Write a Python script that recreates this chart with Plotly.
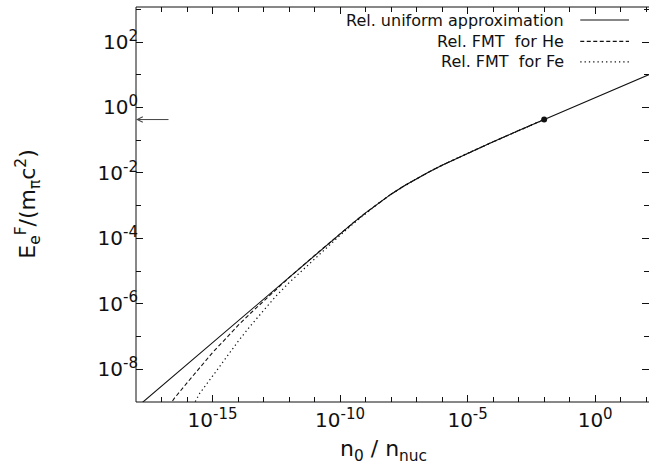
import math
import plotly.graph_objects as go

# Electron Fermi energy (in units of m_pi c^2) versus n0 / n_nuc
n_uniform = [1e-18, 1e-17, 1e-16, 1e-15, 1e-14, 1e-13, 1e-12, 1e-11, 3.16e-11,
             1e-10, 3.16e-10, 1e-9, 3.16e-9, 1e-8, 3.16e-8, 1e-7, 3.16e-7,
             1e-6, 1e-5, 1e-4, 1e-3, 1e-2, 1e-1, 1.0, 10.0, 100.0, 200.0]
E_uniform = [6.60e-10, 3.06e-9, 1.42e-8, 6.60e-8, 3.06e-7, 1.42e-6, 6.59e-6,
             3.05e-5, 6.53e-5, 1.39e-4, 2.92e-4, 6.00e-4, 1.19e-3, 2.24e-3,
             3.98e-3, 6.72e-3, 1.09e-2, 1.72e-2, 4.01e-2, 8.97e-2, 0.197,
             0.427, 0.923, 1.99, 4.30, 9.26, 11.7]

n_he = [1e-17, 3.16e-17, 1e-16, 3.16e-16, 1e-15, 3.16e-15, 1e-14, 3.16e-14,
        1e-13, 1e-12, 1e-11, 3.16e-11, 1e-10, 3.16e-10, 1e-9, 3.16e-9, 1e-8,
        3.16e-8, 1e-7, 3.16e-7, 1e-6, 1e-5, 1e-4, 1e-3, 1e-2]
E_he = [3.47e-10, 1.29e-9, 3.83e-9, 1.14e-8, 3.24e-8, 8.38e-8, 2.19e-7,
        5.25e-7, 1.23e-6, 6.31e-6, 3.01e-5, 6.53e-5, 1.39e-4, 2.92e-4,
        6.00e-4, 1.19e-3, 2.24e-3, 3.98e-3, 6.72e-3, 1.09e-2, 1.72e-2,
        4.01e-2, 8.97e-2, 0.197, 0.427]

n_fe = [1e-16, 3.16e-16, 1e-15, 3.16e-15, 1e-14, 3.16e-14, 1e-13, 3.16e-13,
        1e-12, 1e-11, 3.16e-11, 1e-10, 3.16e-10, 1e-9, 3.16e-9, 1e-8, 3.16e-8,
        1e-7, 3.16e-7, 1e-6, 1e-5, 1e-4, 1e-3, 1e-2]
E_fe = [3.55e-10, 1.85e-9, 6.17e-9, 2.10e-8, 7.08e-8, 2.19e-7, 6.46e-7,
        1.76e-6, 4.41e-6, 2.42e-5, 5.56e-5, 1.24e-4, 2.73e-4, 5.79e-4,
        1.17e-3, 2.24e-3, 3.98e-3, 6.72e-3, 1.09e-2, 1.72e-2, 4.01e-2,
        8.97e-2, 0.197, 0.427]

# marked point and the matching level on the energy axis
n_mark = [1e-2]
E_mark = [0.427]

series_names = ["Rel. uniform approximation", "Rel. FMT  for He", "Rel. FMT  for Fe"]

x_exponents = [-15, -10, -5, 0]
y_exponents = [-8, -6, -4, -2, 0, 2]


def power_label(k):
    return f"10<sup><span style='font-size:15px'>{k}</span></sup>"


x_major = [10.0 ** k for k in x_exponents]
x_major_text = [power_label(k) for k in x_exponents]
x_minor = [10.0 ** k for k in range(-18, 3) if k not in x_exponents]
y_major = [10.0 ** k for k in y_exponents]
y_major_text = [power_label(k) for k in y_exponents]
y_minor = [10.0 ** k for k in range(-9, 4) if k not in y_exponents]

FONT = "DejaVu Sans, Liberation Sans, Arial, sans-serif"
INK = "#111111"

fig = go.Figure()
fig.add_trace(go.Scatter(x=n_uniform, y=E_uniform, mode="lines", name=series_names[0],
                         line=dict(color=INK, width=1.1)))
fig.add_trace(go.Scatter(x=n_he, y=E_he, mode="lines", name=series_names[1],
                         line=dict(color=INK, width=1.1, dash="4px,2.5px")))
fig.add_trace(go.Scatter(x=n_fe, y=E_fe, mode="lines", name=series_names[2],
                         line=dict(color=INK, width=1.2, dash="1.3px,3px")))
fig.add_trace(go.Scatter(x=n_mark, y=E_mark, mode="markers", showlegend=False,
                         marker=dict(color=INK, size=6)))

axis_common = dict(type="log", showgrid=False, zeroline=False, showline=False,
                   ticks="inside", ticklen=7, tickwidth=1, tickcolor=INK,
                   mirror="ticks", tickmode="array",
                   tickfont=dict(family=FONT, size=20, color=INK))

fig.update_xaxes(**axis_common, range=[-18, 2.11], tickvals=x_major, ticktext=x_major_text,
                 ticklabelstandoff=4,
                 minor=dict(tickmode="array", tickvals=x_minor, ticks="inside",
                            ticklen=5, tickwidth=1, tickcolor=INK))
fig.update_yaxes(**axis_common, range=[-9, 3.07], tickvals=y_major, ticktext=y_major_text,
                 ticklabelstandoff=-3,
                 minor=dict(tickmode="array", tickvals=y_minor, ticks="inside",
                            ticklen=5, tickwidth=1, tickcolor=INK))

# frame: left, bottom and top borders
frame = dict(type="line", xref="paper", yref="paper", line=dict(color=INK, width=1))
fig.add_shape(**frame, x0=0, x1=0, y0=0, y1=1)
fig.add_shape(**frame, x0=0, x1=1, y0=0, y1=0)
fig.add_shape(**frame, x0=0, x1=1, y0=1, y1=1)

# key: right-aligned labels with line samples to their right
key_rows = [0.967, 0.913, 0.861]
key_dash = ["solid", "4px,2.5px", "1.3px,3px"]
for name, yk, dash in zip(series_names, key_rows, key_dash):
    fig.add_annotation(xref="paper", yref="paper", x=0.838, y=yk, text=name,
                       showarrow=False, xanchor="right", yanchor="middle",
                       font=dict(family=FONT, size=16, color=INK))
    fig.add_shape(type="line", xref="paper", yref="paper", x0=0.866, x1=0.961,
                  y0=yk, y1=yk, line=dict(color=INK, width=1.1, dash=dash))

# arrow pointing at the energy level of the marked point
fig.add_annotation(xref="paper", yref="y", x=0.0, y=math.log10(E_mark[0]),
                   ax=34, ay=0, text="", showarrow=True, arrowhead=5,
                   arrowsize=1.1, arrowwidth=1, arrowcolor="#444444", standoff=0)

# axis titles
fig.add_annotation(xref="paper", yref="paper", x=0.483, y=-0.122,
                   text="n<sub>0</sub> / n<sub>nuc</sub>", showarrow=False,
                   xanchor="center", yanchor="middle",
                   font=dict(family=FONT, size=22, color=INK))
fig.add_annotation(xref="paper", yref="paper", x=-0.212, y=0.5,
                   text="E<sub>e</sub><sup>F</sup>/(m<sub>π</sub>c<sup>2</sup>)",
                   showarrow=False, textangle=-90, xanchor="center", yanchor="middle",
                   font=dict(family=FONT, size=22, color=INK))

fig.update_layout(width=649, height=464, showlegend=False,
                  margin=dict(l=136, r=0, t=7, b=62),
                  paper_bgcolor="white", plot_bgcolor="white")

fig.write_html("out.html")
